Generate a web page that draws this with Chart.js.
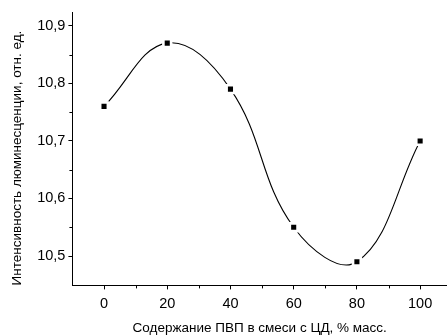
<!DOCTYPE html>
<html>
<head>
<meta charset="utf-8">
<script src="https://cdn.jsdelivr.net/npm/chart.js@4"></script>
<style>
  html, body { margin: 0; padding: 0; background: #fff; }
</style>
</head>
<body>
<canvas id="myChart" width="447" height="335"></canvas>
<script>
// data
var pvpContent = [0, 20, 40, 60, 80, 100];
var intensity = [10.76, 10.87, 10.79, 10.55, 10.49, 10.70];
var xTicks = [0, 20, 40, 60, 80, 100];
var xMinorTicks = [10, 30, 50, 70, 90];
var yTicks = [10.5, 10.6, 10.7, 10.8, 10.9];
var yMinorTicks = [10.55, 10.65, 10.75, 10.85];

var points = pvpContent.map(function (x, i) { return { x: x, y: intensity[i] }; });

Chart.defaults.font.family = '"Liberation Sans", Arial, sans-serif';
Chart.defaults.color = '#000';

// small minor ticks, placed through the scales
var minorTicks = {
    id: 'minorTicks',
    afterDraw: function (chart) {
        var c = chart.ctx, xs = chart.scales.x, ys = chart.scales.y;
        c.save();
        c.strokeStyle = '#000';
        c.lineWidth = 1;
        c.beginPath();
        xMinorTicks.forEach(function (v) {
            var px = Math.round(xs.getPixelForValue(v)) + 0.5;
            c.moveTo(px, xs.top);
            c.lineTo(px, xs.top + 3);
        });
        yMinorTicks.forEach(function (v) {
            var py = Math.round(ys.getPixelForValue(v)) + 0.5;
            c.moveTo(ys.right, py);
            c.lineTo(ys.right - 3, py);
        });
        c.stroke();
        c.restore();
    }
};

var ctx = document.getElementById('myChart').getContext('2d');
var chart = new Chart(ctx, {
    type: 'line',
    data: {
        datasets: [
            {
                // black square markers
                data: points,
                showLine: false,
                pointStyle: 'rect',
                pointRadius: 3.6,
                pointBorderWidth: 0,
                pointBackgroundColor: '#000',
                order: 0
            },
            {
                // white gap around markers
                data: points,
                showLine: false,
                pointStyle: 'rect',
                pointRadius: 7.3,
                pointBorderWidth: 0,
                pointBackgroundColor: '#fff',
                order: 1
            },
            {
                // smooth curve
                data: points,
                borderColor: '#000',
                borderWidth: 1.1,
                pointRadius: 0,
                tension: 0.4,
                cubicInterpolationMode: 'default',
                fill: false,
                order: 2
            }
        ]
    },
    options: {
        responsive: false,
        animation: false,
        devicePixelRatio: 1,
        layout: { autoPadding: false, padding: { top: 12, right: 0, left: 9, bottom: -1 } },
        plugins: {
            legend: { display: false },
            tooltip: { enabled: false }
        },
        scales: {
            x: {
                type: 'linear',
                min: -10,
                max: 108.5,
                afterBuildTicks: function (s) { s.ticks = xTicks.map(function (v) { return { value: v }; }); },
                grid: { drawOnChartArea: false, drawTicks: true, tickLength: 4, color: '#000' },
                border: { display: true, color: '#000', width: 1 },
                ticks: { font: { size: 14.5 }, padding: 6, maxRotation: 0 },
                title: {
                    display: true,
                    text: 'Содержание ПВП в смеси с ЦД, % масс.',
                    font: { size: 13.5 },
                    padding: { top: 1, bottom: 0 }
                }
            },
            y: {
                type: 'linear',
                min: 10.449,
                max: 10.924,
                afterBuildTicks: function (s) { s.ticks = yTicks.map(function (v) { return { value: v }; }); },
                grid: { drawOnChartArea: false, drawTicks: true, tickLength: 4, color: '#000' },
                border: { display: true, color: '#000', width: 1 },
                ticks: {
                    font: { size: 14.5 },
                    padding: 3,
                    callback: function (v) { return v.toFixed(1).replace('.', ','); }
                },
                title: {
                    display: true,
                    align: 'start',
                    text: 'Интенсивность люминесценции, отн. ед.',
                    font: { size: 13.5 },
                    padding: { top: 0, bottom: 9 }
                }
            }
        }
    },
    plugins: [minorTicks]
});
</script>
</body>
</html>
